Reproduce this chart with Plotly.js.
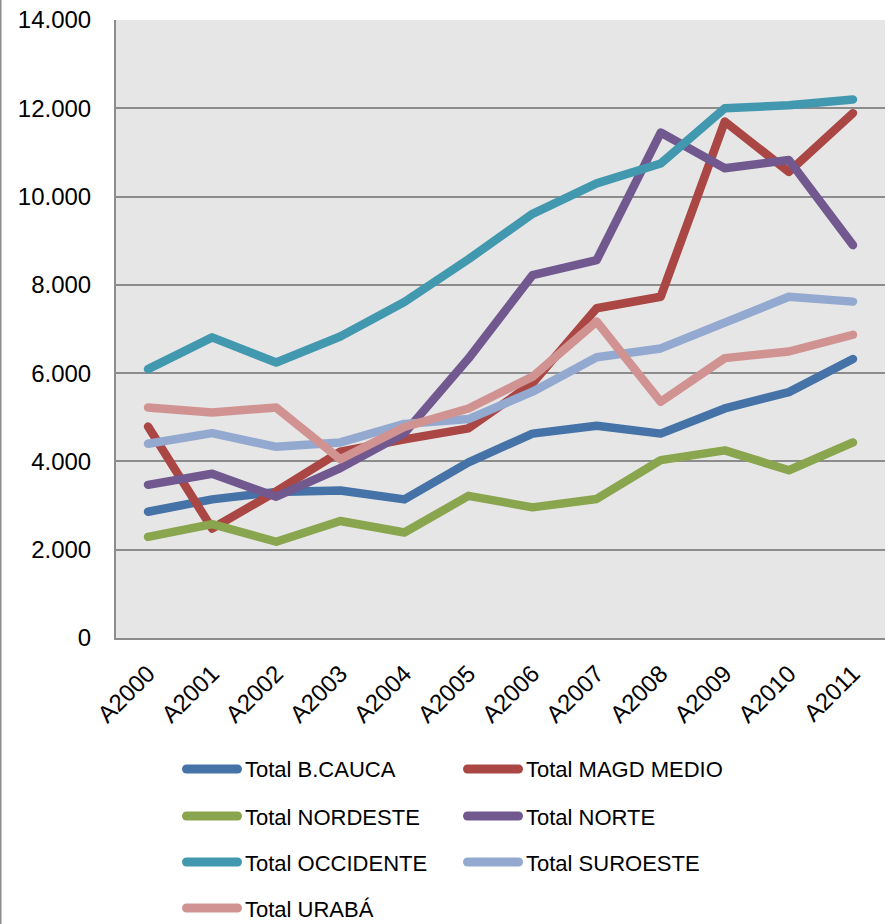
<!DOCTYPE html>
<html>
<head>
<meta charset="utf-8">
<script src="https://cdn.plot.ly/plotly-3.0.1.min.js"></script>
<style>
  html, body { margin: 0; padding: 0; background: #fff; }
  #chart { width: 888px; height: 924px; }
  .js-line { stroke-linejoin: round !important; stroke-linecap: round !important; }
  .shapelayer path { stroke-linecap: round !important; }
</style>
</head>
<body>
<div id="chart"></div>
<script>
// ---- data ----
const categories = ["A2000","A2001","A2002","A2003","A2004","A2005","A2006","A2007","A2008","A2009","A2010","A2011"];

const seriesNames = ["Total B.CAUCA","Total MAGD MEDIO","Total NORDESTE","Total NORTE","Total OCCIDENTE","Total SUROESTE","Total URABÁ"];

const bCauca     = [2860, 3140, 3310, 3340, 3140, 3980, 4630, 4810, 4630, 5200, 5570, 6320];
const magdMedio  = [4790, 2480, 3320, 4220, 4500, 4750, 5770, 7470, 7730, 11700, 10560, 11890];
const nordeste   = [2290, 2580, 2180, 2650, 2390, 3220, 2960, 3150, 4030, 4250, 3800, 4430];
const norte      = [3470, 3720, 3200, 3850, 4640, 6330, 8220, 8560, 11450, 10640, 10830, 8900];
const occidente  = [6090, 6810, 6240, 6830, 7610, 8580, 9610, 10300, 10750, 12000, 12070, 12200];
const suroeste   = [4400, 4640, 4330, 4430, 4850, 4960, 5580, 6360, 6560, 7170, 7730, 7620];
const uraba      = [5220, 5110, 5220, 4050, 4780, 5200, 5920, 7170, 5350, 6340, 6490, 6870];

const seriesValues = [bCauca, magdMedio, nordeste, norte, occidente, suroeste, uraba];
const seriesColors = ["#4572A7","#AA4643","#89A54E","#71588F","#4198AF","#93A9CF","#D19392"];

const yTickVals = [0, 2000, 4000, 6000, 8000, 10000, 12000, 14000];
const yTickText = ["0","2.000","4.000","6.000","8.000","10.000","12.000","14.000"];

// ---- traces ----
const traces = seriesNames.map((name, i) => ({
  type: "scatter",
  mode: "lines",
  name: name,
  x: categories,
  y: seriesValues[i],
  line: { color: seriesColors[i], width: 8.5 },
  hoverinfo: "skip"
}));

// ---- custom legend (two columns, long line symbols) ----
const PX_L = 116, PX_W = 769, PX_B = 638, PX_H = 618;
const px2x = px => (px - PX_L) / PX_W;
const py2y = py => (PX_B - py) / PX_H;

const legendCols = [{ s0: 186.5, s1: 237.5, t: 243 }, { s0: 467.5, s1: 518.5, t: 524 }];
const legendRows = [769, 816, 862, 908];

const shapes = [];
const annotations = [];
seriesNames.forEach((name, i) => {
  const col = legendCols[i % 2];
  const rowY = legendRows[Math.floor(i / 2)];
  shapes.push({
    type: "line", xref: "paper", yref: "paper",
    x0: px2x(col.s0), x1: px2x(col.s1), y0: py2y(rowY), y1: py2y(rowY),
    line: { color: seriesColors[i], width: 9 }
  });
  annotations.push({
    xref: "paper", yref: "paper",
    x: px2x(col.t), y: py2y(rowY + 1),
    xanchor: "left", yanchor: "middle",
    text: name, showarrow: false,
    font: { family: "Liberation Sans, Arial, sans-serif", size: 22, color: "#000" }
  });
});

// chart border on the left edge
shapes.push({
  type: "line", xref: "paper", yref: "paper",
  x0: px2x(0.75), x1: px2x(0.75), y0: py2y(0), y1: py2y(924),
  line: { color: "#8c8c8c", width: 1.5 }
});

const layout = {
  width: 888, height: 924,
  margin: { l: 116, r: 3, t: 20, b: 286 },
  paper_bgcolor: "#ffffff",
  plot_bgcolor: "#e6e6e6",
  showlegend: false,
  xaxis: {
    type: "category",
    range: [-0.5, 11.5],
    tickangle: -45,
    showgrid: false,
    showline: true, linecolor: "#8c8c8c", linewidth: 2,
    ticks: "outside", ticklen: 10, tickcolor: "rgba(0,0,0,0)",
    tickfont: { family: "Liberation Sans, Arial, sans-serif", size: 24, color: "#000" },
    zeroline: false, fixedrange: true
  },
  yaxis: {
    range: [0, 14000],
    tickvals: yTickVals,
    ticktext: yTickText,
    showgrid: true, gridcolor: "#8c8c8c", gridwidth: 2,
    showline: true, linecolor: "#8c8c8c", linewidth: 2,
    ticks: "outside", ticklen: 18, tickcolor: "rgba(0,0,0,0)",
    tickfont: { family: "Liberation Sans, Arial, sans-serif", size: 24, color: "#000" },
    zeroline: false, fixedrange: true
  },
  shapes: shapes,
  annotations: annotations
};

Plotly.newPlot("chart", traces, layout, { displayModeBar: false, staticPlot: true });
</script>
</body>
</html>
